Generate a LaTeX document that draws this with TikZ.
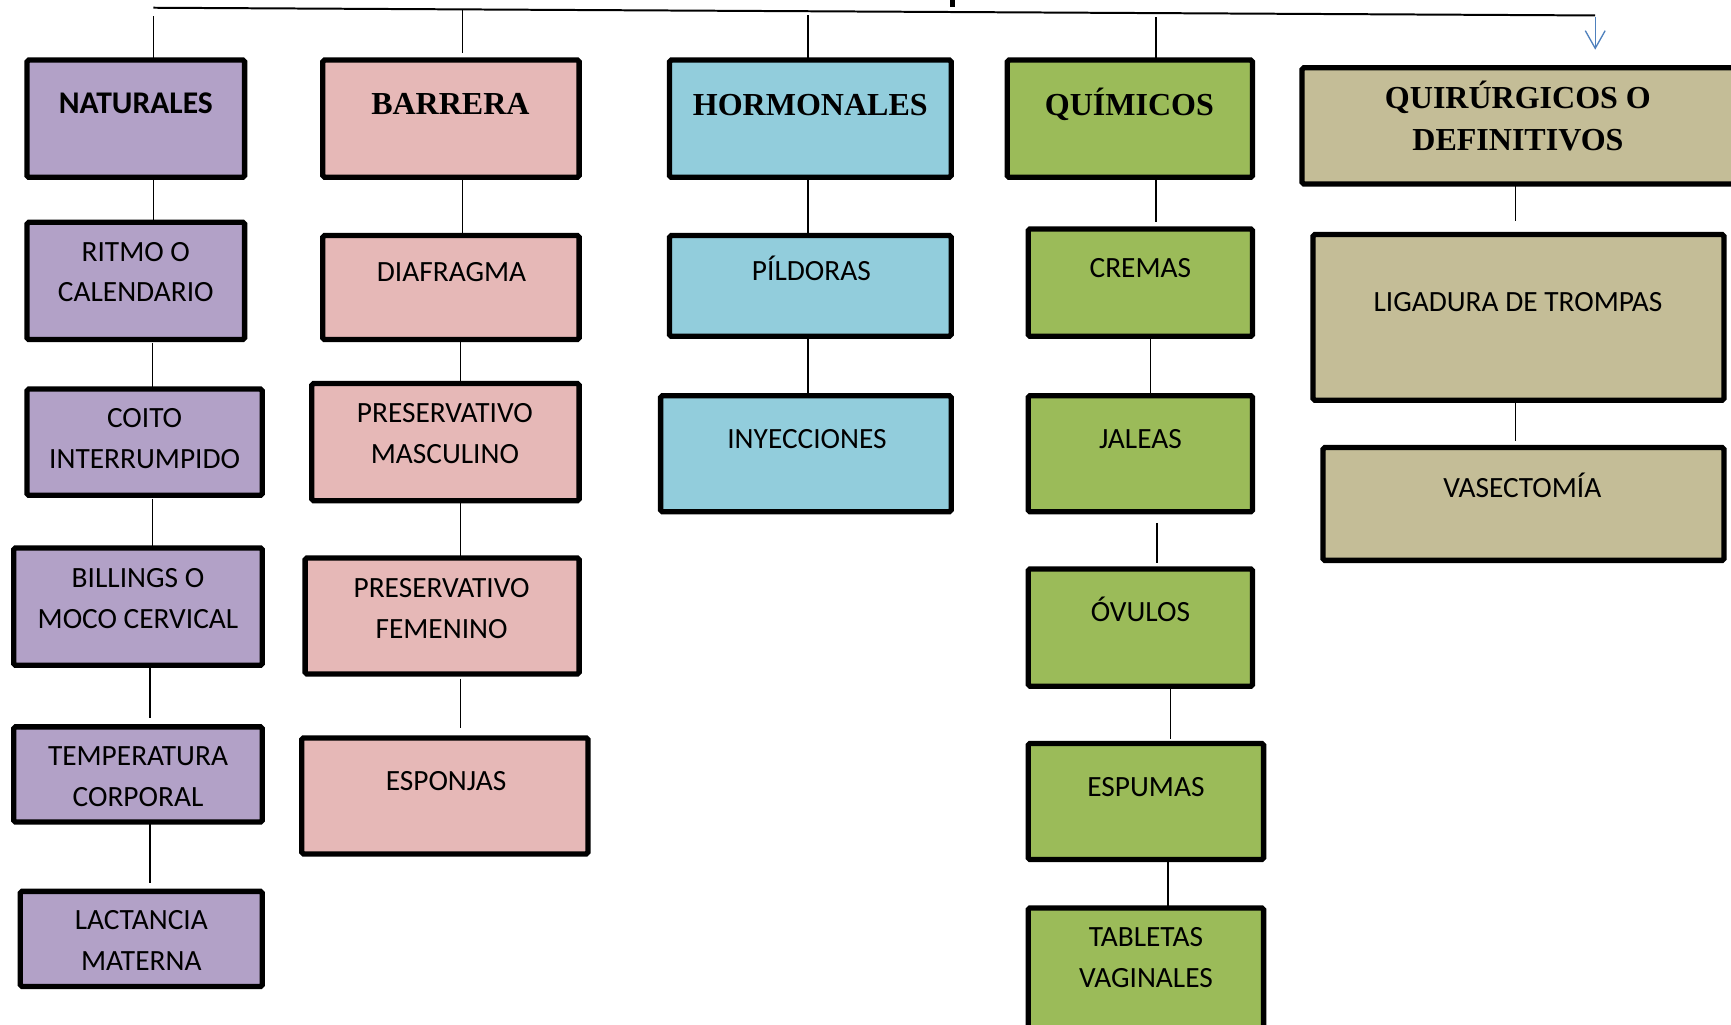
\documentclass[tikz,border=0pt]{standalone}
\usepackage{fontspec}
\setmainfont{Carlito}
\newfontfamily\tnr{Liberation Serif}
\usetikzlibrary{fit,arrows.meta}
\definecolor{cpur}{HTML}{B2A1C7}
\definecolor{cpink}{HTML}{E6B8B7}
\definecolor{cblue}{HTML}{92CDDC}
\definecolor{cgreen}{HTML}{9BBB59}
\definecolor{ctan}{HTML}{C4BD97}
\definecolor{carrow}{HTML}{4F81BD}
\newcommand{\mybx}[6]{\node[box, fill=#2, fit={(#3+2.4,#4+2.4) (#5-2.4,#6-2.4)}] (#1) {};}
\tikzset{
  box/.style={draw=black, line width=2.4pt, inner sep=0pt, outer sep=0pt, rounded corners=0.8pt},
  conn/.style={draw=black, line width=0.6pt},
  txt/.style={font={\fontsize{13.3}{18.5}\selectfont}, align=center, inner sep=0pt, text=black},
  one/.style={text height=8.4pt, text depth=0pt},
  head/.style={font={\fontsize{14.5}{19}\selectfont\tnr\bfseries}, align=center, inner sep=0pt},
  headone/.style={text height=9.6pt, text depth=0pt},
}
\begin{document}
\begin{tikzpicture}[x=0.5pt,y=-0.5pt]
\clip (0,0) rectangle (1568,928);
\fill[white] (0,0) rectangle (1568,928);
% top line
\coordinate (TL) at (139,7);
\coordinate (TR) at (1445,14);
\draw[line width=0.9pt] (TL) -- (TR);
\coordinate (stA) at (863,0);
\coordinate (stB) at (863,6.5);
\draw[line width=2.3pt] (stA) -- (stB);
% boxes column 1
\mybx{nat}{cpur}{22}{52}{224}{163}
\mybx{rit}{cpur}{22}{199}{224}{310}
\mybx{coi}{cpur}{22}{350}{240}{451}
\mybx{bil}{cpur}{10}{494}{240}{605}
\mybx{tem}{cpur}{10}{656}{240}{747}
\mybx{lac}{cpur}{16}{805}{240}{896}
% column 2
\mybx{bar}{cpink}{290}{52}{527}{163}
\mybx{dia}{cpink}{290}{211}{527}{310}
\mybx{pma}{cpink}{280}{345}{527}{456}
\mybx{pfe}{cpink}{274}{503}{527}{613}
\mybx{spo}{cpink}{271}{666}{535}{776}
% column 3
\mybx{hor}{cblue}{604}{52}{864}{163}
\mybx{pil}{cblue}{604}{211}{864}{307}
\mybx{iny}{cblue}{596}{356}{864}{466}
% column 4
\mybx{qui}{cgreen}{910}{52}{1137}{163}
\mybx{cre}{cgreen}{929}{205}{1137}{307}
\mybx{jal}{cgreen}{929}{356}{1137}{466}
\mybx{ovu}{cgreen}{929}{513}{1137}{624}
\mybx{esm}{cgreen}{929}{671}{1147}{781}
\mybx{tab}{cgreen}{929}{820}{1147}{960}
% column 5
\mybx{qur}{ctan}{1177}{59}{1575}{169}
\mybx{lig}{ctan}{1187}{210}{1564}{365}
\mybx{vas}{ctan}{1196}{403}{1564}{510}
% texts
\node[txt, one, font={\fontsize{14.3}{19}\selectfont\bfseries}, text height=9.1pt] (tnat) at (123,94) {NATURALES};
\node[head, headone] (tbar) at (408,94) {BARRERA};
\node[head, headone] (thor) at (734,95) {HORMONALES};
\node[head, headone] (tqui) at (1023,95) {QUÍMICOS};
\node[head] (tqur) at (1375,105) {QUIRÚRGICOS O\\DEFINITIVOS};
\node[txt] (trit) at (123,246.5) {RITMO O\\CALENDARIO};
\node[txt] (tcoi) at (131,397) {COITO\\INTERRUMPIDO};
\node[txt] (tbil) at (125,542) {BILLINGS O\\MOCO CERVICAL};
\node[txt] (ttem) at (125,703.5) {TEMPERATURA\\CORPORAL};
\node[txt] (tlac) at (128,852) {LACTANCIA\\MATERNA};
\node[txt, one] (tdia) at (409,247) {DIAFRAGMA};
\node[txt] (tpma) at (403,393) {PRESERVATIVO\\MASCULINO};
\node[txt] (tpfe) at (400,551) {PRESERVATIVO\\FEMENINO};
\node[txt, one] (tspo) at (404,708) {ESPONJAS};
\node[txt, one] (tpil) at (735,246) {PÍLDORAS};
\node[txt, one] (tiny) at (731,398) {INYECCIONES};
\node[txt, one] (tcre) at (1033,243) {CREMAS};
\node[txt, one] (tjal) at (1033,398) {JALEAS};
\node[txt, one] (tovu) at (1033,555) {ÓVULOS};
\node[txt, one] (tesm) at (1038,713) {ESPUMAS};
\node[txt] (ttab) at (1038,867.5) {TABLETAS\\VAGINALES};
\node[txt, one] (tlig) at (1375,274) {LIGADURA DE TROMPAS};
\node[txt, one] (tvas) at (1379,442) {VASECTOMÍA};
% drops from top line
\coordinate (d1) at (139,14.5);
\coordinate (d2) at (419,8.5);
\coordinate (d3) at (732,13.6);
\coordinate (d4) at (1047,15.4);
\draw[conn] (d1) -- (nat.north -| d1);
\draw[conn, shorten >=3pt] (d2) -- (bar.north -| d2);
\draw[conn] (d3) -- (hor.north -| d3);
\draw[conn] (d4) -- (qui.north -| d4);
\coordinate (a1) at (1445,15);
\coordinate (a2) at (1445,45);
\draw[carrow, line width=0.6pt, -{Straight Barb[length=8pt,width=9pt]}] (a1) -- (a2);
% column connectors
\coordinate (x139) at (139,0);
\coordinate (x138) at (138,0);
\coordinate (x136) at (136,0);
\draw[conn] (nat.south -| x139) -- (rit.north -| x139);
\draw[conn, shorten <=1.5pt] (rit.south -| x138) -- (coi.north -| x138);
\draw[conn, shorten <=1.5pt] (coi.south -| x138) -- (bil.north -| x138);
\draw[conn, shorten >=4pt] (bil.south -| x136) -- (tem.north -| x136);
\draw[conn, shorten >=4pt] (tem.south -| x136) -- (lac.north -| x136);
\coordinate (x419) at (419,0);
\coordinate (x417) at (417,0);
\draw[conn] (bar.south -| x419) -- (dia.north -| x419);
\draw[conn] (dia.south -| x417) -- (pma.north -| x417);
\draw[conn] (pma.south -| x417) -- (pfe.north -| x417);
\draw[conn, shorten <=2pt, shorten >=4.5pt] (pfe.south -| x417) -- (spo.north -| x417);
\coordinate (x732) at (732,0);
\draw[conn] (hor.south -| x732) -- (pil.north -| x732);
\draw[conn] (pil.south -| x732) -- (iny.north -| x732);
\coordinate (x1047) at (1047,0);
\coordinate (x1042) at (1042,0);
\coordinate (x1048) at (1048,0);
\coordinate (x1060) at (1060,0);
\coordinate (x1058) at (1058,0);
\draw[conn, shorten >=3pt] (qui.south -| x1047) -- (cre.north -| x1047);
\draw[conn] (cre.south -| x1042) -- (jal.north -| x1042);
\draw[conn, shorten <=5pt, shorten >=2.5pt] (jal.south -| x1048) -- (ovu.north -| x1048);
\draw[conn, shorten >=2pt] (ovu.south -| x1060) -- (esm.north -| x1060);
\draw[conn] (esm.south -| x1058) -- (tab.north -| x1058);
\coordinate (x1373) at (1373,0);
\draw[conn, shorten <=1pt, shorten >=6pt] (qur.south -| x1373) -- (lig.north -| x1373);
\draw[conn, shorten >=3pt] (lig.south -| x1373) -- (vas.north -| x1373);
\end{tikzpicture}
\end{document}
